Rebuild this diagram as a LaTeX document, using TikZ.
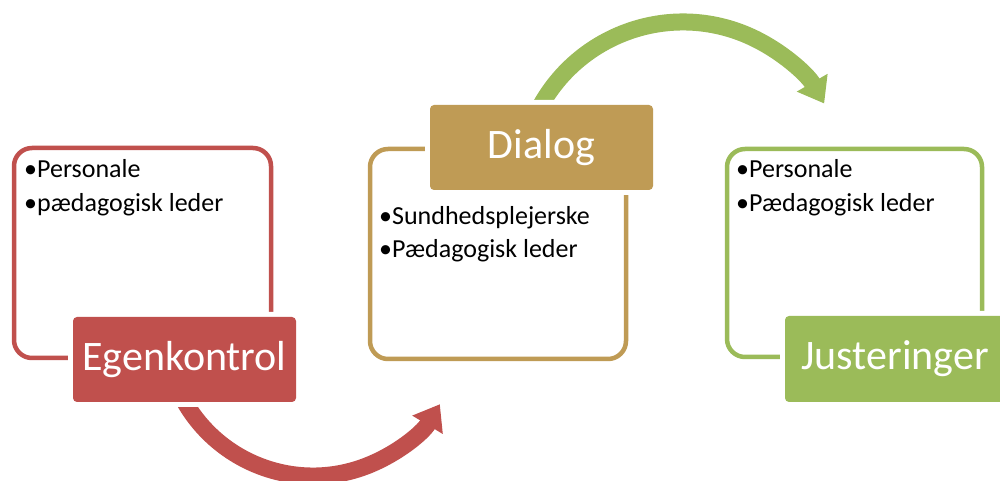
\documentclass[tikz,border=0pt]{standalone}
\usepackage{fontspec}
\setmainfont{Carlito}
\usetikzlibrary{arrows.meta}
\definecolor{cred}{RGB}{192,80,77}
\definecolor{ctan}{RGB}{191,155,85}
\definecolor{cgreen}{RGB}{155,187,89}
\tikzset{
  framebox/.style={draw=#1, line width=4.5pt, rounded corners=18pt, inner sep=0pt},
  labelbox/.style={fill=#1, rounded corners=4pt, inner sep=0pt, text=white,
    font=\fontsize{42}{50}\selectfont,
    preaction={draw=white, line width=10pt}},
  bullet/.style={anchor=base west, inner sep=0pt, font=\fontsize{26}{31}\selectfont},
  bigarrow/.style={draw=#1, line width=17pt,
    -{Triangle[length=24pt,width=34pt]}}
}
\begin{document}
\begin{tikzpicture}[x=1pt,y=1pt]
\useasboundingbox (0,0) rectangle (1000,481);
% frames
\node[framebox=cred, minimum width=257pt, minimum height=210pt] (f1) at (142.5,228) {};
\node[framebox=ctan, minimum width=256pt, minimum height=210pt] (f2) at (498,227) {};
\node[framebox=cgreen, minimum width=255pt, minimum height=208pt] (f3) at (854.5,228) {};
% arrows
\coordinate (c1) at (313,153);
\coordinate (c2) at (683,296);
\draw[bigarrow=cred] ([shift={(200:148)}]c1) arc[start angle=200, end angle=329, radius=148];
\draw[bigarrow=cgreen] ([shift={(155:163)}]c2) arc[start angle=155, end angle=30, radius=163];
% labels
\node[labelbox=cred, minimum width=223pt, minimum height=85pt] (l1) at (184.5,121.5) {Egenkontrol};
\node[labelbox=ctan, minimum width=223pt, minimum height=85pt] (l2) at (541.5,333.5) {Dialog};
\node[labelbox=cgreen, minimum width=220pt, minimum height=86pt] (l3) at (895,122) {Justeringer};
% bullet texts
\node[bullet] (a1) at (24,303) {•Personale};
\node[bullet] (a2) at (24,269) {•pædagogisk leder};
\node[bullet] (b1) at (379,256) {•Sundhedsplejerske};
\node[bullet] (b2) at (379,223) {•Pædagogisk leder};
\node[bullet] (g1) at (736,303) {•Personale};
\node[bullet] (g2) at (736,269) {•Pædagogisk leder};
\end{tikzpicture}
\end{document}
